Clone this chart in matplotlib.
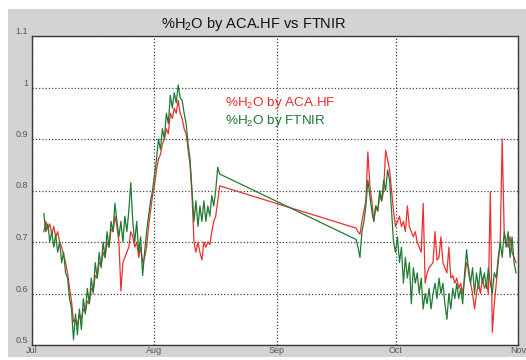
import numpy as np
import pandas as pd
import matplotlib
matplotlib.use("Agg")
import matplotlib.pyplot as plt
from matplotlib.patches import Rectangle

plt.rcParams['font.family'] = ['Liberation Sans', 'DejaVu Sans']
plt.rcParams['mathtext.fontset'] = 'custom'
plt.rcParams['mathtext.rm'] = 'Liberation Sans'
plt.rcParams['mathtext.it'] = 'Liberation Sans'

# ---- data (days since Jul 1, 0.5-day step) ----
start1 = 3.0
step = 0.5
green1 = [0.755, 0.72, 0.735, 0.70, 0.72, 0.69, 0.715, 0.68, 0.70, 0.66, 0.68, 0.64, 0.63, 0.59, 0.57, 0.51,
          0.56, 0.52, 0.57, 0.53, 0.59, 0.56, 0.61, 0.58, 0.63, 0.60, 0.66, 0.63, 0.68, 0.65, 0.70, 0.67,
          0.72, 0.69, 0.74, 0.72, 0.775, 0.74, 0.71, 0.74, 0.70, 0.75, 0.72, 0.76, 0.815, 0.74, 0.70, 0.74,
          0.68, 0.71, 0.635, 0.68, 0.72, 0.75, 0.78, 0.80, 0.83, 0.86, 0.90, 0.88, 0.92, 0.90, 0.95, 0.93,
          0.985, 0.96, 0.99, 0.97, 1.005, 0.98, 0.975, 0.95, 0.93, 0.89, 0.86, 0.80, 0.74, 0.78, 0.73, 0.77,
          0.74, 0.78, 0.74, 0.77, 0.75, 0.79, 0.77, 0.80, 0.845, 0.832]
red1 = [0.72, 0.74, 0.725, 0.735, 0.715, 0.73, 0.71, 0.72, 0.70, 0.69, 0.675, 0.66, 0.64, 0.61, 0.585, 0.545,
        0.55, 0.54, 0.56, 0.55, 0.57, 0.565, 0.585, 0.58, 0.61, 0.605, 0.635, 0.63, 0.66, 0.655, 0.68, 0.67,
        0.70, 0.69, 0.725, 0.72, 0.75, 0.73, 0.70, 0.605, 0.66, 0.67, 0.68, 0.69, 0.72, 0.71, 0.69, 0.70,
        0.67, 0.69, 0.66, 0.67, 0.69, 0.73, 0.76, 0.79, 0.81, 0.84, 0.86, 0.87, 0.89, 0.90, 0.92, 0.91,
        0.95, 0.94, 0.96, 0.95, 0.975, 0.95, 0.94, 0.92, 0.91, 0.88, 0.85, 0.79, 0.70, 0.68, 0.70, 0.68,
        0.665, 0.70, 0.69, 0.70, 0.695, 0.72, 0.74, 0.75, 0.78, 0.809]

start2 = 82.0
green2 = [0.705, 0.69, 0.67, 0.72, 0.74, 0.77, 0.82, 0.79, 0.76, 0.74, 0.77, 0.76, 0.80, 0.78, 0.82, 0.80,
          0.84, 0.82, 0.76, 0.70, 0.68, 0.71, 0.66, 0.69, 0.62, 0.67, 0.63, 0.66, 0.58, 0.65, 0.62, 0.64,
          0.60, 0.63, 0.57, 0.60, 0.58, 0.61, 0.57, 0.60, 0.62, 0.59, 0.63, 0.60, 0.62, 0.58, 0.55, 0.60,
          0.57, 0.61, 0.59, 0.62, 0.59, 0.61, 0.58, 0.64, 0.685, 0.64, 0.62, 0.65, 0.60, 0.64, 0.61, 0.65,
          0.62, 0.64, 0.61, 0.65, 0.62, 0.60, 0.64, 0.63, 0.67, 0.70, 0.67, 0.72, 0.69, 0.72, 0.67, 0.71,
          0.66, 0.64]
red2 = [0.727, 0.72, 0.715, 0.74, 0.76, 0.78, 0.875, 0.81, 0.78, 0.74, 0.77, 0.76, 0.79, 0.78, 0.80, 0.878,
        0.86, 0.84, 0.80, 0.76, 0.73, 0.74, 0.75, 0.73, 0.74, 0.72, 0.77, 0.73, 0.72, 0.71, 0.72, 0.70,
        0.69, 0.68, 0.775, 0.62, 0.64, 0.65, 0.655, 0.66, 0.72, 0.665, 0.67, 0.71, 0.66, 0.65, 0.64, 0.69,
        0.63, 0.635, 0.62, 0.63, 0.61, 0.62, 0.60, 0.63, 0.66, 0.65, 0.62, 0.60, 0.57, 0.60, 0.62, 0.60,
        0.63, 0.61, 0.62, 0.60, 0.797, 0.525, 0.58, 0.62, 0.66, 0.70, 0.90, 0.72, 0.70, 0.69, 0.71, 0.68,
        0.67, 0.66]

month_labels = ['Jul', 'Aug', 'Sep', 'Oct', 'Nov']
y_ticks = [0.5, 0.6, 0.7, 0.8, 0.9, 1.0, 1.1]
y_labels = ['0.5', '0.6', '0.7', '0.8', '0.9', '1', '1.1']
title = r'%H$_2$O by ACA.HF vs FTNIR'
label_red = r'%H$_2$O by ACA.HF'
label_green = r'%H$_2$O by FTNIR'

base = pd.Timestamp('2003-07-01')


def to_dates(start, n):
    days = start + step * np.arange(n)
    return base + pd.to_timedelta(days, unit='D')


t_red = np.concatenate([to_dates(start1, len(red1)), to_dates(start2, len(red2))])
t_green = np.concatenate([to_dates(start1, len(green1)), to_dates(start2, len(green2))])
v_red = np.array(red1 + red2)
v_green = np.array(green1 + green2)

month_ticks = pd.date_range('2003-07-01', periods=len(month_labels), freq='MS')

# ---- figure ----
W, H = 526, 360
fig = plt.figure(figsize=(W / 100, H / 100), dpi=100, facecolor='white')
fig.patches.append(Rectangle((8 / W, 3 / H), 1 - 8 / W, 1 - 12 / H, transform=fig.transFigure,
                             facecolor='#d3d3d3', edgecolor='none', zorder=-10))

ax = fig.add_axes([32 / W, 15 / H, (518 - 32) / W, (345 - 36) / H])
ax.set_zorder(2)
ax.set_facecolor('white')

red_c = '#ec2f2f'
green_c = '#1f7a33'
ax.plot(t_red, v_red, color=red_c, lw=0.9, zorder=3)
ax.plot(t_green, v_green, color=green_c, lw=0.9, zorder=4)

ax.set_xlim(month_ticks[0], month_ticks[-1])
ax.set_ylim(y_ticks[0], y_ticks[-1])
ax.set_xticks(month_ticks)
ax.set_xticklabels(month_labels)
ax.set_yticks(y_ticks)
ax.set_yticklabels(y_labels)
ax.tick_params(length=0, labelsize=6.5, labelcolor='#555555', pad=1)
for lab in ax.get_yticklabels():
    lab.set_verticalalignment('bottom')
ax.tick_params(axis='y', pad=3)

ax.grid(True, color='#444444', lw=0.9, ls=(0, (1, 1.6)))
ax.set_axisbelow(True)
for s in ax.spines.values():
    s.set_color('#3a3a3a')
    s.set_linewidth(1.0)

t1 = fig.text(254 / W, 1 - 24 / H, title, ha='center', va='center', fontsize=10.5, color='#111111')
t2 = fig.text(225 / W, 1 - 103 / H, label_red, ha='left', va='center', fontsize=9.7, color=red_c)
t3 = fig.text(225 / W, 1 - 121 / H, label_green, ha='left', va='center', fontsize=9.7, color=green_c)
for t in (t1, t2, t3):
    t.set_zorder(5)

fig.savefig('out.png', dpi=100, facecolor=fig.get_facecolor())
